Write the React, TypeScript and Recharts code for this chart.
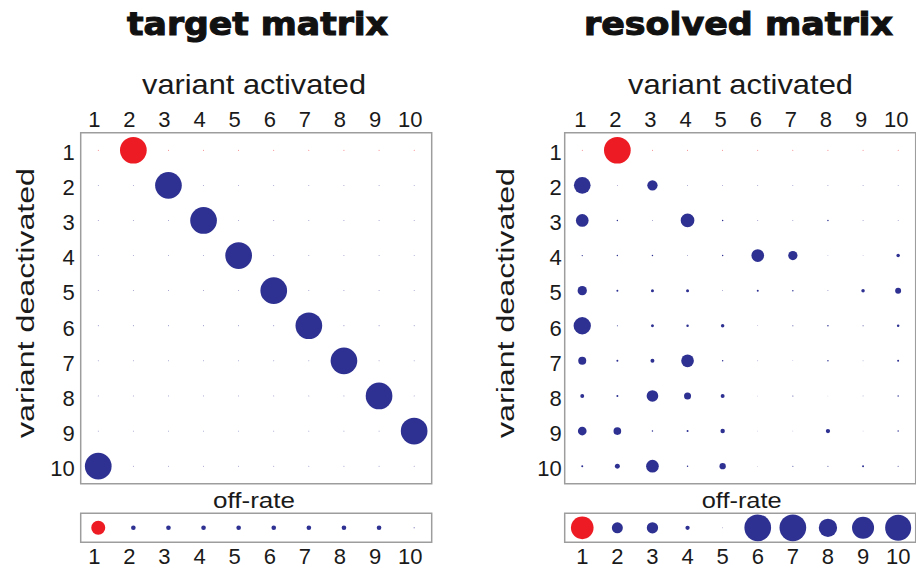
import { ScatterChart, Scatter, XAxis, YAxis, ZAxis, ReferenceArea, Cell } from 'recharts'

const VARIANTS = [1, 2, 3, 4, 5, 6, 7, 8, 9, 10]

// bubble area relative to the biggest bubble (1 = full size), rows = variant deactivated
const TARGET_MATRIX = [
  [0.001, 1, 0.001, 0.001, 0.001, 0.001, 0.001, 0.001, 0.001, 0.001],
  [0.001, 0.001, 1, 0.001, 0.001, 0.001, 0.001, 0.001, 0.001, 0.001],
  [0.001, 0.001, 0.001, 1, 0.001, 0.001, 0.001, 0.001, 0.001, 0.001],
  [0.001, 0.001, 0.001, 0.001, 1, 0.001, 0.001, 0.001, 0.001, 0.001],
  [0.001, 0.001, 0.001, 0.001, 0.001, 1, 0.001, 0.001, 0.001, 0.001],
  [0.001, 0.001, 0.001, 0.001, 0.001, 0.001, 1, 0.001, 0.001, 0.001],
  [0.001, 0.001, 0.001, 0.001, 0.001, 0.001, 0.001, 1, 0.001, 0.001],
  [0.001, 0.001, 0.001, 0.001, 0.001, 0.001, 0.001, 0.001, 1, 0.001],
  [0.001, 0.001, 0.001, 0.001, 0.001, 0.001, 0.001, 0.001, 0.001, 1],
  [1, 0.001, 0.001, 0.001, 0.001, 0.001, 0.001, 0.001, 0.001, 0.001],
]

const RESOLVED_MATRIX = [
  [0.001, 1, 0.001, 0.001, 0.001, 0.001, 0.001, 0.001, 0.001, 0.001],
  [0.39, 0.001, 0.149, 0.001, 0.001, 0.001, 0.001, 0.001, 0.001, 0.001],
  [0.226, 0.003, 0.001, 0.263, 0.003, 0.001, 0.001, 0.003, 0.001, 0.001],
  [0.0024, 0.003, 0.003, 0.001, 0.003, 0.226, 0.121, 0.0005, 0.0005, 0.017],
  [0.121, 0.0056, 0.0126, 0.0126, 0.001, 0.0056, 0.003, 0.001, 0.017, 0.05],
  [0.42, 0.0014, 0.0126, 0.0088, 0.017, 0.0007, 0.0014, 0.003, 0.0014, 0.0088],
  [0.09, 0.0056, 0.022, 0.226, 0.003, 0.0007, 0.0004, 0.003, 0.0007, 0.0056],
  [0.022, 0.0056, 0.19, 0.069, 0.022, 0.0004, 0.0014, 0.0002, 0.0007, 0.003],
  [0.106, 0.083, 0.003, 0.0056, 0.028, 0.0004, 0.0004, 0.026, 0.0004, 0.003],
  [0.0056, 0.035, 0.226, 0.003, 0.056, 0.0004, 0.0014, 0.0014, 0.0056, 0.0014],
]

const TARGET_OFF_RATE = [0.275, 0.03, 0.03, 0.03, 0.03, 0.03, 0.03, 0.03, 0.03, 0.0014]
const RESOLVED_OFF_RATE = [0.72, 0.17, 0.18, 0.026, 0.0007, 1, 1, 0.47, 0.68, 0.95]

const RED = '#ed1c24'
const BLUE = '#2e3192'
const BORDER = '#9d9d9d'
const TEXT = '#1a1a1a'
const FONT = '"Liberation Sans", Arial, sans-serif'
const MAX_AREA = Math.PI * 13.35 * 13.35

function Matrix({ rows, left, tickDx, yTickMargin }: { rows: number[][]; left: number; tickDx: number; yTickMargin: number }) {
  const data = rows.flatMap((row, i) => row.map((z, j) => ({ x: VARIANTS[j], y: VARIANTS[i], z })))
  return (
    <div style={{ position: 'absolute', left, top: 0 }}>
      <ScatterChart width={434} height={490} margin={{ top: 102.7, right: 2.3, bottom: 6.3, left: 40.7 }}>
        <XAxis
          type="number"
          dataKey="x"
          orientation="top"
          domain={[0.5, 10.5]}
          ticks={VARIANTS}
          interval={0}
          height={30}
          axisLine={false}
          tickLine={false}
          tickSize={0}
          tickMargin={6}
          tick={{ fontSize: 22, fill: TEXT, fontFamily: FONT, dx: tickDx }}
        />
        <YAxis
          type="number"
          dataKey="y"
          domain={[0.5, 10.5]}
          reversed
          ticks={VARIANTS}
          interval={0}
          width={40}
          axisLine={false}
          tickLine={false}
          tickSize={0}
          tickMargin={yTickMargin}
          tick={{ fontSize: 22, fill: TEXT, fontFamily: FONT, dy: 2 }}
        />
        <ZAxis type="number" dataKey="z" domain={[0, 1]} range={[0, MAX_AREA]} />
        <ReferenceArea x1={0.5} x2={10.5} y1={0.5} y2={10.5} fill="none" stroke={BORDER} strokeWidth={1.5} />
        <Scatter data={data} isAnimationActive={false}>
          {data.map((d, i) => (
            <Cell key={`m-${i}`} fill={d.y === 1 ? RED : BLUE} />
          ))}
        </Scatter>
      </ScatterChart>
    </div>
  )
}

function OffRate({ values, left, tickDx }: { values: number[]; left: number; tickDx: number }) {
  const data = values.map((z, i) => ({ x: VARIANTS[i], y: 1, z }))
  return (
    <div style={{ position: 'absolute', left, top: 500 }}>
      <ScatterChart width={434} height={71} margin={{ top: 13.3, right: 2.3, bottom: 0.7, left: 80.7 }}>
        <XAxis
          type="number"
          dataKey="x"
          domain={[0.5, 10.5]}
          ticks={VARIANTS}
          interval={0}
          height={28}
          axisLine={false}
          tickLine={false}
          tickSize={0}
          tickMargin={6}
          tick={{ fontSize: 22, fill: TEXT, fontFamily: FONT, dx: tickDx }}
        />
        <YAxis type="number" dataKey="y" domain={[0.5, 1.5]} hide />
        <ZAxis type="number" dataKey="z" domain={[0, 1]} range={[0, MAX_AREA]} />
        <ReferenceArea x1={0.5} x2={10.5} y1={0.5} y2={1.5} fill="none" stroke={BORDER} strokeWidth={1.5} />
        <Scatter data={data} isAnimationActive={false}>
          {data.map((d, i) => (
            <Cell key={`o-${i}`} fill={d.x === 1 ? RED : BLUE} />
          ))}
        </Scatter>
      </ScatterChart>
    </div>
  )
}

export default function App() {
  const titleStyle = { fontFamily: '"DejaVu Sans", sans-serif', fontWeight: 700, fontSize: 32, fill: '#111', stroke: '#111', strokeWidth: 1.1 }
  const labelStyle = { fontFamily: FONT, fill: TEXT }
  return (
    <div style={{ position: 'absolute', left: 0, top: 0, width: 916, height: 571, overflow: 'hidden', background: '#fff' }}>
      <Matrix rows={TARGET_MATRIX} left={0} tickDx={-4} yTickMargin={6} />
      <Matrix rows={RESOLVED_MATRIX} left={483.6} tickDx={-2} yTickMargin={3} />
      <OffRate values={TARGET_OFF_RATE} left={0} tickDx={-4} />
      <OffRate values={RESOLVED_OFF_RATE} left={483.6} tickDx={0} />
      <svg width={916} height={571} style={{ position: 'absolute', left: 0, top: 0, pointerEvents: 'none' }}>
        <text x={257.5} y={35} textAnchor="middle" textLength={261} lengthAdjust="spacingAndGlyphs" style={titleStyle}>target matrix</text>
        <text x={738.5} y={35} textAnchor="middle" textLength={309} lengthAdjust="spacingAndGlyphs" style={titleStyle}>resolved matrix</text>
        <text x={254} y={94} textAnchor="middle" fontSize={28} textLength={224} lengthAdjust="spacingAndGlyphs" style={labelStyle}>variant activated</text>
        <text x={740.5} y={94} textAnchor="middle" fontSize={28} textLength={225} lengthAdjust="spacingAndGlyphs" style={labelStyle}>variant activated</text>
        <text x={34.3} y={303} transform="rotate(-90 34.3 303)" textAnchor="middle" fontSize={23} textLength={270} lengthAdjust="spacingAndGlyphs" style={labelStyle}>variant deactivated</text>
        <text x={514.3} y={303} transform="rotate(-90 514.3 303)" textAnchor="middle" fontSize={23} textLength={270} lengthAdjust="spacingAndGlyphs" style={labelStyle}>variant deactivated</text>
        <text x={254} y={508.3} textAnchor="middle" fontSize={22} textLength={82} lengthAdjust="spacingAndGlyphs" style={labelStyle}>off-rate</text>
        <text x={741.7} y={508.3} textAnchor="middle" fontSize={22} textLength={80} lengthAdjust="spacingAndGlyphs" style={labelStyle}>off-rate</text>
      </svg>
    </div>
  )
}
